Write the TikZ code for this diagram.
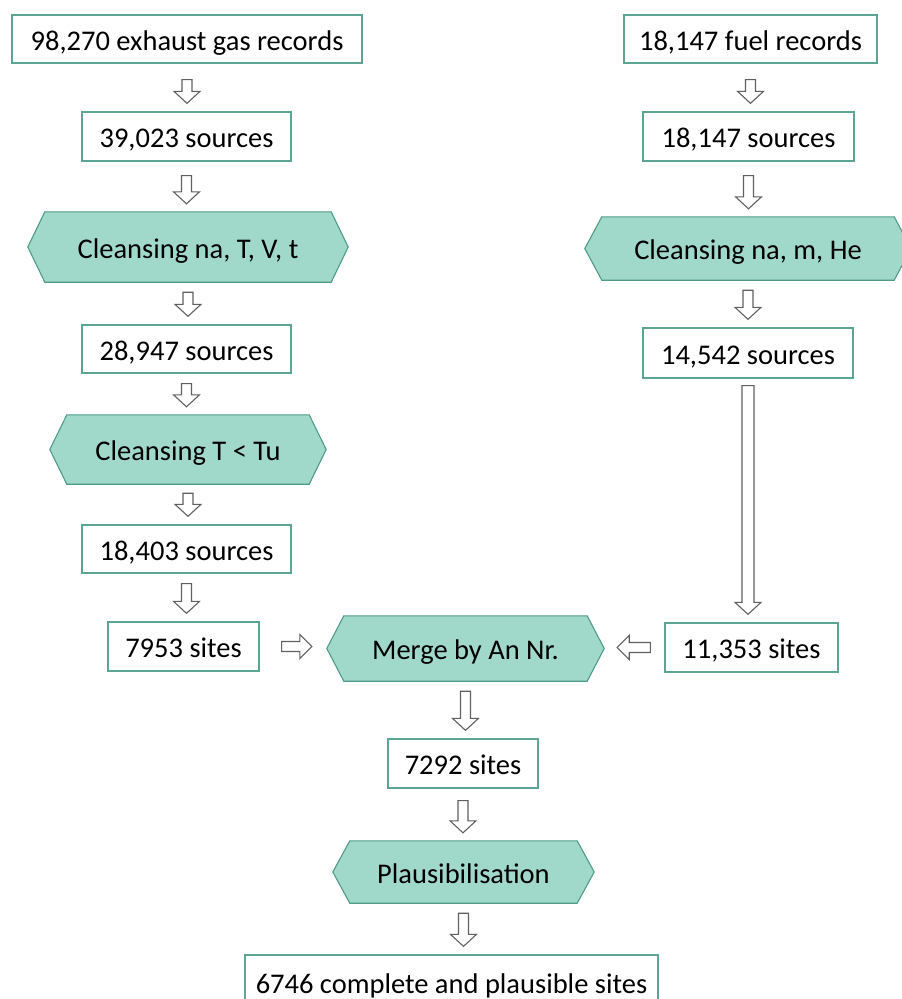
\documentclass[tikz,border=0pt]{standalone}
\usepackage{fontspec}
\setmainfont{Carlito}
\usetikzlibrary{calc,backgrounds}
\definecolor{hexfillc}{HTML}{A0D8CA}
\definecolor{hexdrawc}{HTML}{4E9C88}
\definecolor{boxdrawc}{HTML}{5BA592}
\definecolor{arrc}{HTML}{606060}
\tikzset{
  boxnode/.style={draw=boxdrawc,line width=1.3pt,fill=white,inner sep=0pt,text height=22pt,text depth=0pt,font=\fontsize{28.5}{34}\selectfont},
  hexnode/.style={inner sep=0pt,text height=22pt,text depth=0pt,font=\fontsize{28.5}{34}\selectfont},
  hexshape/.style={fill=hexfillc,draw=hexdrawc,line width=1.1pt},
  blockarr/.style={draw=arrc,fill=white,line width=1.1pt,line join=miter}
}
% vertical block arrow from node #2 (south) to node #4 (north), start gap #3
\newcommand\varr[4][5pt]{%
  \draw[blockarr] let \p1=($(#2.south)+(0,#3)$), \p2=($(#2.south|-#4.north)+(0,-8)$), \n1={#1} in
    (\x1-\n1,\y1) -- (\x1+\n1,\y1) -- (\x1+\n1,\y2+12pt) -- (\x1+13pt,\y2+12pt) -- (\x1,\y2)
    -- (\x1-13pt,\y2+12pt) -- (\x1-\n1,\y2+12pt) -- cycle;}
\newcommand\hexa[2]{%
  \draw[hexshape] (#1.west) -- ([xshift=#2]#1.north west) -- ([xshift=-#2]#1.north east)
    -- (#1.east) -- ([xshift=-#2]#1.south east) -- ([xshift=#2]#1.south west) -- cycle;}
\begin{document}
\begin{tikzpicture}[x=1pt,y=-1pt]
\useasboundingbox (0,0) rectangle (902,999);
\clip (0,0) rectangle (902,999);
% left column
\node[boxnode,minimum width=350,minimum height=48] (b1) at (187,39) {98,270 exhaust gas records};
\node[boxnode,minimum width=209,minimum height=49] (b2) at (186.5,136.5) {39,023 sources};
\node[hexnode,minimum width=320,minimum height=70] (h1) at (188,247) {Cleansing na, T, V, t};
\node[boxnode,minimum width=209,minimum height=48] (b4) at (186.5,349) {28,947 sources};
\node[hexnode,minimum width=276,minimum height=69] (h2) at (188,449.5) {Cleansing T < Tu};
\node[boxnode,minimum width=209,minimum height=48] (b6) at (186.5,549) {18,403 sources};
\node[boxnode,minimum width=151,minimum height=49] (b7) at (183.5,646.5) {7953 sites};
% right column
\node[boxnode,minimum width=253,minimum height=48] (r1) at (750.5,39) {18,147 fuel records};
\node[boxnode,minimum width=211,minimum height=49] (r2) at (748.5,136.5) {18,147 sources};
\node[hexnode,minimum width=326,minimum height=63] (rh) at (748,248.5) {Cleansing na, m, He};
\node[boxnode,minimum width=210,minimum height=50] (r4) at (748,353) {14,542 sources};
\node[boxnode,minimum width=173,minimum height=49] (r5) at (751.5,647.5) {11,353 sites};
% middle
\node[hexnode,minimum width=277,minimum height=65] (hm) at (465.5,648.5) {Merge by An Nr.};
\node[boxnode,minimum width=150,minimum height=49] (m1) at (463,763.5) {7292 sites};
\node[hexnode,minimum width=261,minimum height=62] (hp) at (463.5,872) {Plausibilisation};
\node[boxnode,minimum width=413,minimum height=54] (m2) at (451.5,982) {6746 complete and plausible sites};
\begin{scope}[on background layer]
  \hexa{h1}{17pt}
  \hexa{h2}{17pt}
  \hexa{rh}{17pt}
  \hexa{hm}{17pt}
  \hexa{hp}{17pt}
\end{scope}
% vertical arrows
\varr{b1}{16}{b2}
\varr{b2}{14}{h1}
\varr{h1}{10}{b4}
\varr{b4}{10}{h2}
\varr{h2}{9}{b6}
\varr{b6}{10}{b7}
\varr{r1}{16}{r2}
\varr{r2}{14}{rh}
\varr{rh}{10}{r4}
\varr[6pt]{r4}{7}{r5}
\varr{hm}{10}{m1}
\varr{m1}{12}{hp}
\varr{hp}{10}{m2}
% horizontal arrows
\draw[blockarr] let \p1=($(b7.east)+(22,0)$), \p2=($(hm.west)+(-15,0)$) in
  (\x1,\y1-5pt) -- (\x2-12pt,\y1-5pt) -- (\x2-12pt,\y1-12pt) -- (\x2,\y1) -- (\x2-12pt,\y1+12pt) -- (\x2-12pt,\y1+5pt) -- (\x1,\y1+5pt) -- cycle;
\draw[blockarr] let \p1=($(r5.west)+(-14,0)$), \p2=($(hm.east)+(13,0)$) in
  (\x1,\y1-5pt) -- (\x2+12pt,\y1-5pt) -- (\x2+12pt,\y1-12pt) -- (\x2,\y1) -- (\x2+12pt,\y1+12pt) -- (\x2+12pt,\y1+5pt) -- (\x1,\y1+5pt) -- cycle;
\end{tikzpicture}
\end{document}
